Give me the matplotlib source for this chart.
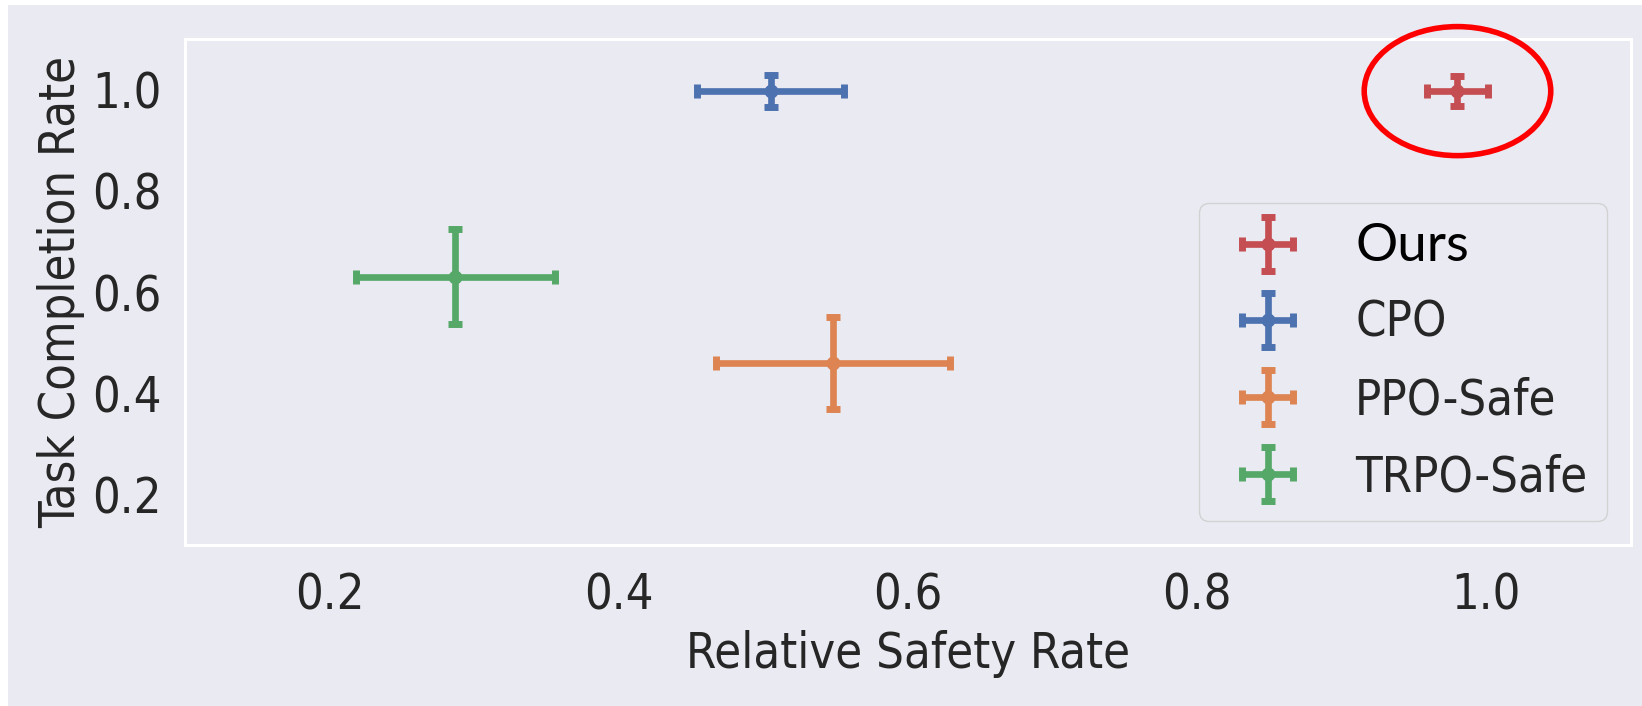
import matplotlib
matplotlib.use("Agg")
import matplotlib.pyplot as plt
from matplotlib.container import ErrorbarContainer
from matplotlib.legend_handler import HandlerErrorbar
from matplotlib.patches import Ellipse, Rectangle

# values
methods = ["Ours", "CPO", "PPO-Safe", "TRPO-Safe"]
safety = [0.98, 0.505, 0.548, 0.287]
safety_err = [0.021, 0.051, 0.081, 0.069]
completion = [0.997, 0.997, 0.46, 0.63]
completion_err = [0.03, 0.031, 0.091, 0.094]
colors = ["#C44E52", "#4C72B0", "#DD8452", "#55A868"]

BG = "#EAEAF2"
TXT = "#262626"
FS = 35

plt.rcParams["font.family"] = "DejaVu Sans"
plt.rcParams["font.stretch"] = "condensed"

W, H = 1642, 706
fig = plt.figure(figsize=(W / 100, H / 100), dpi=100, facecolor="white")
fig.patches.append(Rectangle((8 / W, 0), 1 - 8 / W, 1 - 5 / H,
                             transform=fig.transFigure, facecolor=BG,
                             edgecolor="none", zorder=-10))

ax = fig.add_axes([185 / W, 1 - 545 / H, (1631 - 185) / W, (545 - 39) / H])
ax.set_facecolor(BG)
for s in ax.spines.values():
    s.set_color("white")
    s.set_linewidth(2.2)

for name, x, xe, y, ye, c in zip(methods, safety, safety_err,
                                 completion, completion_err, colors):
    ax.errorbar(x, y, xerr=xe, yerr=ye, fmt="o", color=c, ms=9,
                elinewidth=4.8, capsize=5, capthick=5, label=name)

# highlight around our method
ax.add_patch(Ellipse((safety[0], completion[0]), 0.129, 0.255, fill=False,
                     edgecolor="red", linewidth=4, clip_on=False, zorder=5))

ax.set_xlim(0.1, 1.1)
ax.set_ylim(0.1, 1.1)
ax.set_xticks([0.2, 0.4, 0.6, 0.8, 1.0])
ax.set_yticks([0.2, 0.4, 0.6, 0.8, 1.0])
ax.tick_params(axis="both", length=0, labelsize=FS, labelcolor=TXT)
ax.tick_params(axis="x", pad=19)
ax.tick_params(axis="y", pad=17)
ax.grid(False)

ax.set_xlabel("Relative Safety Rate", fontsize=FS, color=TXT, labelpad=8)
ax.set_ylabel("Task Completion Rate", fontsize=FS, color=TXT, labelpad=5)

leg = ax.legend(loc="lower right", fontsize=FS, facecolor=BG,
                edgecolor="#cccccc", labelspacing=0.6,
                handler_map={ErrorbarContainer:
                             HandlerErrorbar(xerr_size=0.52, yerr_size=0.56)})
for t in leg.get_texts():
    t.set_color(TXT)
ours = leg.get_texts()[0]
ours.set_fontfamily("Lato")
ours.set_fontstretch("normal")
ours.set_fontsize(38)
ours.set_color("black")

fig.savefig("out.png", dpi=100, facecolor=fig.get_facecolor())
